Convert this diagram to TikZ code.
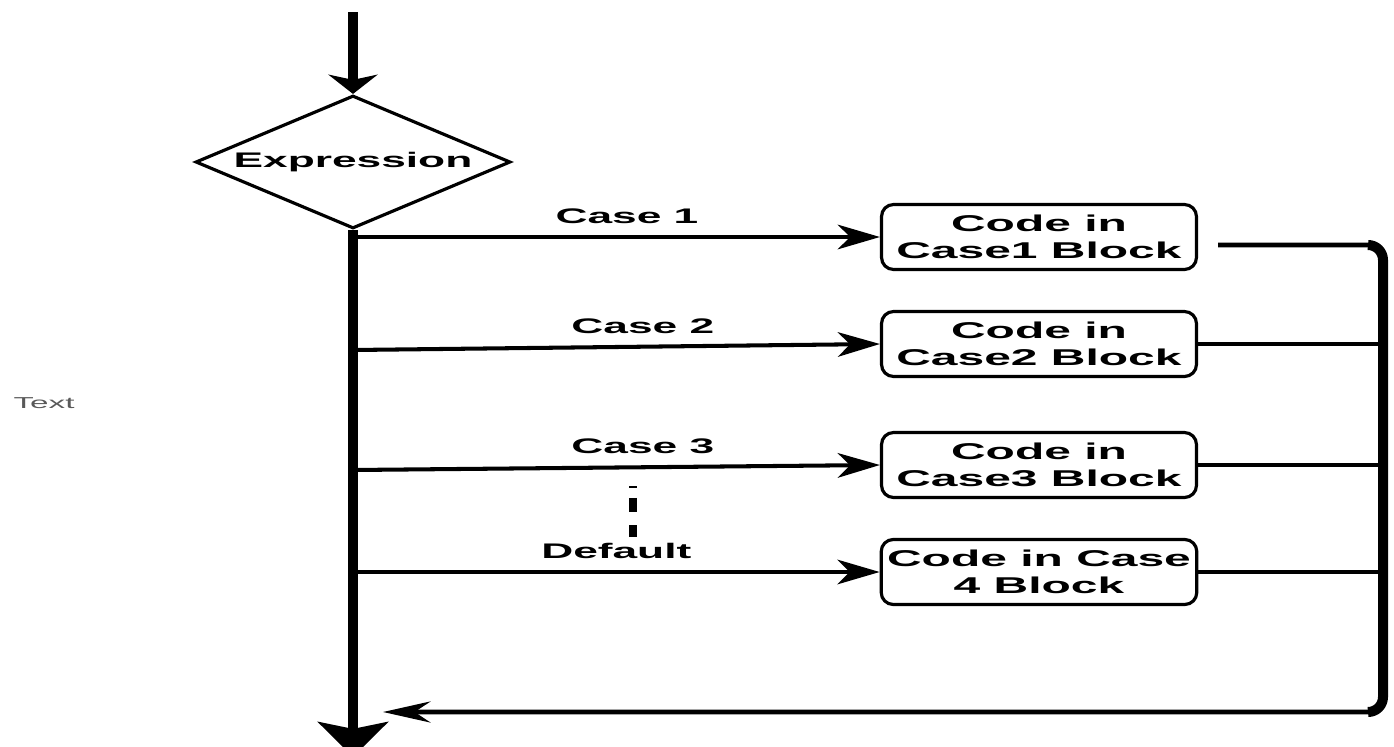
\documentclass[tikz,border=0pt]{standalone}
\usepackage{fontspec}
\setmainfont[FakeStretch=2.1]{Liberation Sans}
\usetikzlibrary{shapes.geometric,arrows.meta}

\begin{document}
\begin{tikzpicture}[
        x=0.02cm, y=-0.02cm,
        cond/.style = {diamond, draw, line width=1.8pt, minimum width=6.3cm,
                       minimum height=2.66cm, inner sep=0pt},
        blk/.style  = {rectangle, draw, line width=1.8pt, rounded corners=0.24cm,
                       minimum width=6.3cm, minimum height=1.3cm, align=center,
                       font=\fontsize{13}{15.5}\selectfont\bfseries},
        lbl/.style  = {above=3pt, font=\fontsize{12}{14}\selectfont\bfseries},
        flow/.style = {line width=5.7pt},
        br/.style   = {line width=2.3pt, -{Stealth[length=24pt, width=14pt, inset=7pt]}},
        back/.style = {line width=2.6pt}
    ]
        \useasboundingbox (0,0) rectangle (1394,747);
        % main flow
        \coordinate (top) at (353,12);
        \node[cond, label={center:\fontsize{12}{14}\selectfont\bfseries Expression}] (expr) at (353,162) {};
        \coordinate (end) at (353,757);
        \draw[flow, -{Stealth[length=11pt, width=28pt, inset=3pt]}] (top) -- (expr.north);
        \draw[flow, -{Stealth[length=20pt, width=40pt, inset=4pt]}] (expr.south) -- (end);

        % case blocks
        \node[blk] (b1) at (1039,237) {Code in\\Case1 Block};
        \node[blk] (b2) at (1039,344) {Code in\\Case2 Block};
        \node[blk] (b3) at (1039,465) {Code in\\Case3 Block};
        \node[blk] (b4) at (1039,572) {Code in Case\\4 Block};

        \coordinate (t1) at (353,237);
        \coordinate (t2) at (353,350);
        \coordinate (t3) at (353,470);
        \coordinate (t4) at (353,572);
        \draw[br] (t1) -- node[lbl, pos=0.52]{Case 1}  (b1.west);
        \draw[br] (t2) -- node[lbl, pos=0.55]{Case 2}  (b2.west);
        \draw[br] (t3) -- node[lbl, pos=0.55]{Case 3}  (b3.west);
        \draw[br] (t4) -- node[lbl, pos=0.5]{Default} (b4.west);

        % dots between case 3 and default
        \coordinate (d1) at (633,486);
        \coordinate (d2) at (633,538);
        \draw[line width=4pt, dash pattern=on 1.1pt off 5.7pt on 8pt off 7.4pt on 6.8pt] (d1) -- (d2);

        % return path
        \coordinate (s1) at (1218,245);
        \coordinate (r1) at (1383,245);
        \coordinate (rb) at (1383,712);
        \coordinate (ret) at (383,712);
        \draw[back, rounded corners=0.3cm, -{Stealth[length=27pt, width=12pt, inset=9pt]}]
            (s1) -- (r1) -- (rb) -- (ret);
        \draw[flow, rounded corners=0.3cm]
            ([xshift=-0.3cm]r1) -- (r1) -- (rb) -- ([xshift=-0.3cm]rb);
        \draw[back] (b2.east) -- (b2.east -| r1);
        \draw[back] (b3.east) -- (b3.east -| r1);
        \draw[back] (b4.east) -- (b4.east -| r1);

        \node[text=black!65, font=\fontsize{9}{11}\selectfont] (txt) at (44,403) {Text};
    \end{tikzpicture}
\end{document}
